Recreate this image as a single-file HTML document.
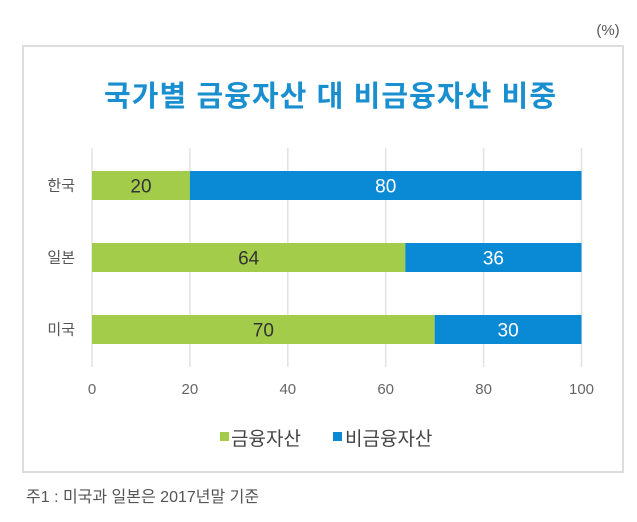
<!DOCTYPE html>
<html><head><meta charset="utf-8"><style>
body{margin:0;background:#fff;width:637px;height:517px;overflow:hidden;font-family:"Liberation Sans","Noto Sans CJK KR",sans-serif}
</style></head><body>
<svg width="637" height="517" xmlns="http://www.w3.org/2000/svg" font-family="Liberation Sans, Noto Sans CJK KR, sans-serif">
<text x="608" y="35" font-size="15" fill="#555" text-anchor="middle">(%)</text>
<rect x="23" y="46" width="600" height="426" fill="#fff" stroke="#ddd" stroke-width="2"/>
<text x="330" y="106" font-size="29" font-weight="bold" fill="#1a8fd0" text-anchor="middle" textLength="452">국가별 금융자산 대 비금융자산 비중</text>
<g id="grid"></g><g id="bars"></g><g id="ticks"></g>
<g>
<rect x="220" y="432" width="9" height="9" fill="#a3cc4a"/>
<text x="231" y="445" font-size="19" fill="#444">금융자산</text>
<rect x="333" y="432" width="9" height="9" fill="#0a8ad4"/>
<text x="345" y="445" font-size="19" fill="#444">비금융자산</text>
</g>
<text x="26" y="502" font-size="16" fill="#555">주1 : 미국과 일본은 2017년말 기준</text>
</svg>
<script>
const categories=["한국","일본","미국"];
const financial=[20,64,70];
const nonFinancial=[80,36,30];
const ticks=[0,20,40,60,80,100];
const NS="http://www.w3.org/2000/svg";
const x=v=>92+v*4.895;
const yTop=i=>171+i*72;
const bh=29;
function mk(tag,attrs,parent){const e=document.createElementNS(NS,tag);for(const k in attrs)e.setAttribute(k,attrs[k]);parent.appendChild(e);return e;}
const grid=document.getElementById('grid'),bars=document.getElementById('bars'),tk=document.getElementById('ticks');
ticks.forEach(t=>{
 const l=mk('line',{x1:x(t),x2:x(t),y1:148,y2:367,stroke:'#e2e2e2','stroke-width':1.5},grid);
 
 
 const tx=mk('text',{x:x(t),y:394,'font-size':15,fill:'#666','text-anchor':'middle'},tk);
 tx.textContent=t;
 
 
});
categories.forEach((c,i)=>{
 const y=yTop(i);
 const lb=mk('text',{x:75,y:y+bh/2+5,'font-size':15,fill:'#555','text-anchor':'end'},bars);
 lb.textContent=c;
 
 
 const r1=mk('rect',{x:x(0),y:y,width:x(financial[i])-x(0),height:bh,fill:'#a3cc4a'},bars);
 
 
 const r2=mk('rect',{x:x(financial[i]),y:y,width:x(financial[i]+nonFinancial[i])-x(financial[i]),height:bh,fill:'#0a8ad4'},bars);
 
 
 const t1=mk('text',{x:(x(0)+x(financial[i]))/2,y:y+bh/2+7,'font-size':19,fill:'#333','text-anchor':'middle'},bars);
 t1.textContent=financial[i];
 
 
 const t2=mk('text',{x:(x(financial[i])+x(financial[i]+nonFinancial[i]))/2,y:y+bh/2+7,'font-size':19,fill:'#fff','text-anchor':'middle'},bars);
 t2.textContent=nonFinancial[i];
 
 
});
</script>
</body></html>
